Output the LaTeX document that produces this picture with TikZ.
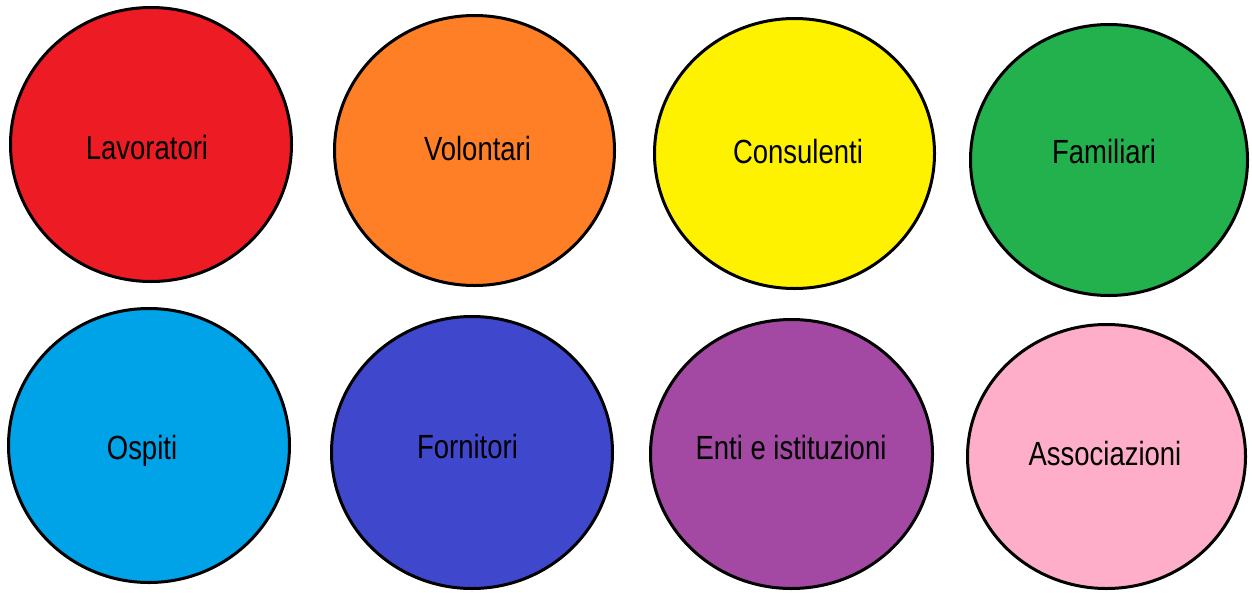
\documentclass[tikz,border=0pt]{standalone}
\usepackage{fontspec}
\usepackage{graphicx}
\setmainfont{Liberation Sans}
\usetikzlibrary{shapes.geometric}
\definecolor{cred}{HTML}{ED1C24}
\definecolor{corange}{HTML}{FF7F27}
\definecolor{cyellow}{HTML}{FFF200}
\definecolor{cgreen}{HTML}{22B14C}
\definecolor{cblue}{HTML}{00A2E8}
\definecolor{cindigo}{HTML}{3F48CC}
\definecolor{cpurple}{HTML}{A349A4}
\definecolor{cpink}{HTML}{FFAEC9}
\newcommand{\lbl}[1]{\scalebox{0.82}[1]{\fontsize{33.5}{40}\selectfont #1}}
\tikzset{
  blob/.style={ellipse, draw=black, line width=3pt, inner sep=0pt},
  lab/.style={anchor=base, inner sep=0pt, text=black}
}
\begin{document}
\begin{tikzpicture}[x=1pt,y=-1pt]
\useasboundingbox[fill=white] (0,0) rectangle (1252,592);
% top row
\node[blob, fill=cred, minimum width=281pt, minimum height=274pt] (c1) at (151,144.5) {};
\node[blob, fill=corange, minimum width=280pt, minimum height=270pt] (c2) at (474.5,150.5) {};
\node[blob, fill=cyellow, minimum width=280pt, minimum height=270pt] (c3) at (794.5,153.5) {};
\node[blob, fill=cgreen, minimum width=277pt, minimum height=271pt] (c4) at (1109,160) {};
% bottom row
\node[blob, fill=cblue, minimum width=281pt, minimum height=274pt] (c5) at (149,445.5) {};
\node[blob, fill=cindigo, minimum width=281pt, minimum height=272pt] (c6) at (472,452.5) {};
\node[blob, fill=cpurple, minimum width=282pt, minimum height=269pt] (c7) at (791.5,454) {};
\node[blob, fill=cpink, minimum width=278pt, minimum height=264pt] (c8) at (1106.5,456.5) {};
% labels
\node[lab] (t1) at (147,159) {\lbl{Lavoratori}};
\node[lab] (t2) at (477.5,160) {\lbl{Volontari}};
\node[lab] (t3) at (798,163) {\lbl{Consulenti}};
\node[lab] (t4) at (1104,163) {\lbl{Familiari}};
\node[lab] (t5) at (142,459) {\lbl{Ospiti}};
\node[lab] (t6) at (467.5,458) {\lbl{Fornitori}};
\node[lab] (t7) at (791,459) {\lbl{Enti e istituzioni}};
\node[lab] (t8) at (1105,465) {\lbl{Associazioni}};
\end{tikzpicture}
\end{document}
